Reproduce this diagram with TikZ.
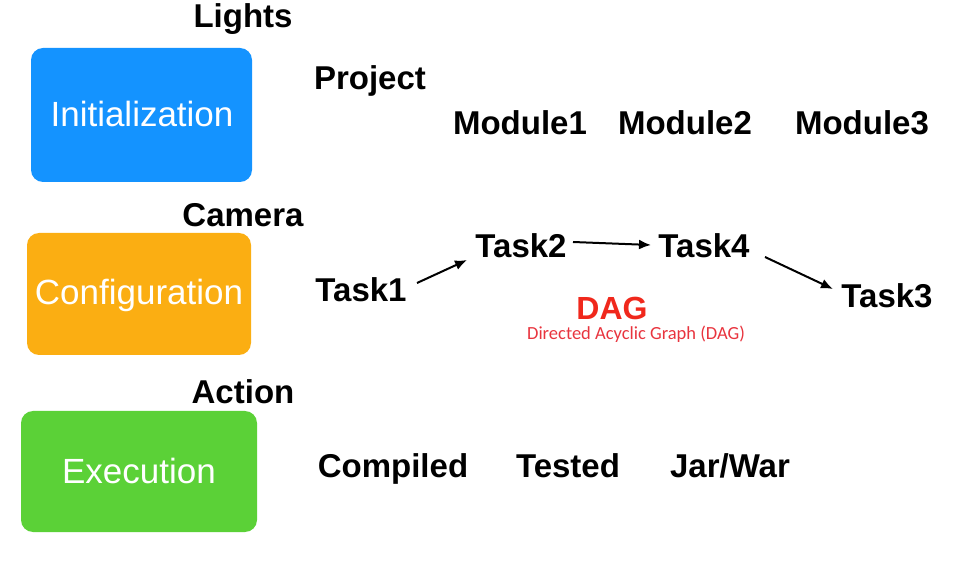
\documentclass[tikz,border=0pt]{standalone}
\usepackage{fontspec}
\setmainfont{Liberation Sans}
\newfontfamily\subfont{Carlito}
\usetikzlibrary{arrows.meta}
\definecolor{cblue}{HTML}{1493FF}
\definecolor{corange}{HTML}{FBAE12}
\definecolor{cgreen}{HTML}{5BD137}
\definecolor{cred}{HTML}{F0281C}
\definecolor{cred2}{HTML}{E8343E}
\tikzset{
  phase/.style={text=white, inner sep=0pt, anchor=base, font=\fontsize{35}{38}\selectfont},
  lbl/.style={font=\bfseries\fontsize{33}{37}\selectfont, inner sep=0pt, anchor=base},
  conn/.style={-{Latex[length=12pt,width=10pt]}, line width=2pt}
}
\begin{document}
\begin{tikzpicture}[x=1pt,y=-1pt]
\useasboundingbox (0,0) rectangle (978,577);
\fill[cblue,rounded corners=12pt] (31,48) rectangle (252,182);
\fill[corange,rounded corners=12pt] (27,233) rectangle (251,355);
\fill[cgreen,rounded corners=12pt] (21,411) rectangle (257,532);
\node[phase] (init) at (142,127) {Initialization};
\node[phase] (conf) at (139,305) {Configuration};
\node[phase] (exec) at (139,483) {Execution};
\node[lbl] (lights) at (243,28) {Lights};
\node[lbl] (project) at (370,90) {Project};
\node[lbl] (m1) at (520,135) {Module1};
\node[lbl] (m2) at (685,135) {Module2};
\node[lbl] (m3) at (862,135) {Module3};
\node[lbl] (camera) at (243,227) {Camera};
\node[lbl] (t1) at (361,302) {Task1};
\node[lbl] (t2) at (521,258) {Task2};
\node[lbl] (t4) at (704,258) {Task4};
\node[lbl] (t3) at (887,308) {Task3};
\node[lbl,text=cred,font=\bfseries\fontsize{32}{36}\selectfont] (dag) at (612,320) {DAG};
\node[inner sep=0pt,anchor=base,text=cred2,font=\subfont\fontsize{18.5}{20}\selectfont] (dagsub) at (636,340) {Directed Acyclic Graph (DAG)};
\node[lbl] (action) at (243,403) {Action};
\node[lbl] (comp) at (393,477) {Compiled};
\node[lbl] (test) at (568,477) {Tested};
\node[lbl] (jar) at (730,477) {Jar/War};
\draw[conn] ([shift={(56,-19)}]t1.base) -- ([shift={(-54,2)}]t2.base);
\draw[conn] ([shift={(52,-16)}]t2.base) -- ([shift={(-53,-13)}]t4.base);
\draw[conn] ([shift={(61,-1)}]t4.base) -- ([shift={(-54,-19)}]t3.base);
\end{tikzpicture}
\end{document}
